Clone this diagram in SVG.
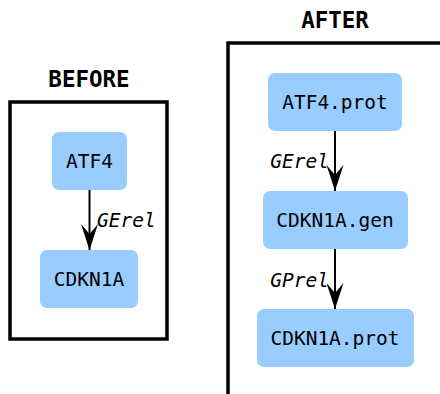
<svg xmlns="http://www.w3.org/2000/svg" width="440" height="394" viewBox="0 0 440 394">
<style>
.frame{fill:none;stroke:#000;stroke-width:3.5}
.title{font-family:"DejaVu Sans Mono",monospace;font-weight:bold;font-size:22.5px;text-anchor:middle;fill:#000}
.node rect{fill:#99ccff}
.node text{font-family:"DejaVu Sans Mono",monospace;font-size:19.5px;text-anchor:middle;fill:#000}
.edge{stroke:#000;stroke-width:2;fill:none}
.lbl{font-family:"DejaVu Sans Mono",monospace;font-size:19.5px;font-style:italic;fill:#000}
</style>
<defs>
<marker id="ah" markerUnits="userSpaceOnUse" markerWidth="28" markerHeight="20" viewBox="0 -10 28 20" refX="26" refY="0" orient="auto">
<path d="M0,-8.5 L26,0 L0,8.5 L10,0 z" fill="#000"/>
</marker>
</defs>
<g id="before">
<rect class="frame" x="10" y="102" width="157" height="237"/>
<text class="title" x="89" y="87">BEFORE</text>
</g>
<g id="after">
<rect class="frame" x="228" y="43" width="240" height="380"/>
<text class="title" x="335" y="28">AFTER</text>
</g>
<g id="edges">
<line class="edge" x1="89.5" y1="190" x2="89.5" y2="250" marker-end="url(#ah)"/>
<text class="lbl" x="97" y="227">GErel</text>
<line class="edge" x1="335" y1="131" x2="335" y2="191" marker-end="url(#ah)"/>
<text class="lbl" x="329" y="168" text-anchor="end">GErel</text>
<line class="edge" x1="335" y1="249" x2="335" y2="309" marker-end="url(#ah)"/>
<text class="lbl" x="329" y="287" text-anchor="end">GPrel</text>
</g>
<g id="n_atf4" class="node"><rect x="52" y="132" width="75" height="58" rx="7"/><text x="89.5" y="168">ATF4</text></g>
<g id="n_cdkn1a" class="node"><rect x="40" y="250" width="98" height="58" rx="7"/><text x="89" y="286">CDKN1A</text></g>
<g id="n_atf4prot" class="node"><rect x="268" y="73" width="134" height="58" rx="7"/><text x="335" y="109">ATF4.prot</text></g>
<g id="n_cdkn1agen" class="node"><rect x="263" y="191" width="145" height="58" rx="7"/><text x="335" y="227">CDKN1A.gen</text></g>
<g id="n_cdkn1aprot" class="node"><rect x="257" y="309" width="157" height="58" rx="7"/><text x="335" y="345">CDKN1A.prot</text></g>
</svg>
